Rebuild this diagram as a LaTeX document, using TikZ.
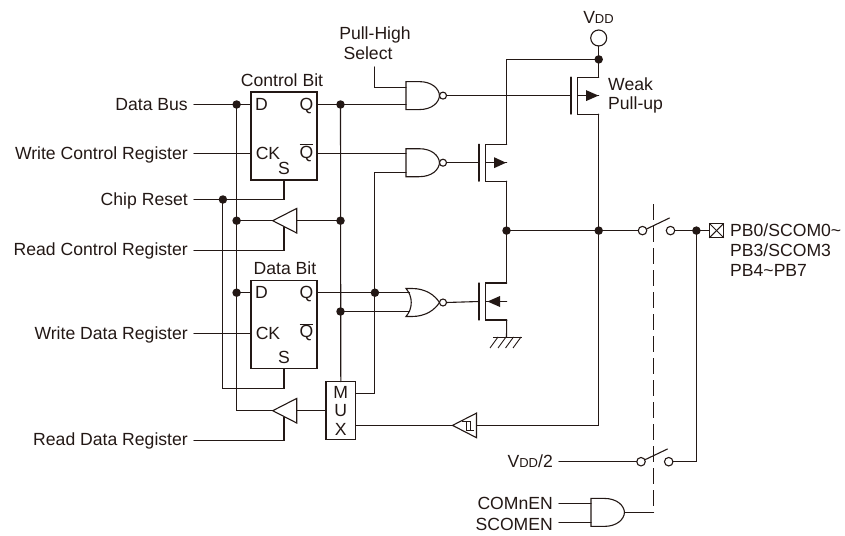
\documentclass[tikz,border=0pt]{standalone}
\usepackage{fontspec}
\setmainfont{Liberation Sans}
\definecolor{ink}{HTML}{231815}
\tikzset{
 wire/.style={draw=ink,line width=1.1pt,line cap=round,line join=miter},
 thinw/.style={draw=ink,line width=.9pt},
 lab/.style={text=ink,font=\fontsize{17.6}{20}\selectfont,inner sep=0pt,text height=12.5pt,text depth=1.5pt},
 rlab/.style={lab,anchor=east,inner xsep=6pt},
 llab/.style={lab,anchor=west},
 dotj/.style={circle,fill=ink,draw=none,minimum size=8.5pt,inner sep=0pt,outer sep=0pt},
 hollow/.style={circle,wire,fill=white,inner sep=0pt,outer sep=0pt},
 bubble/.style={hollow,minimum size=7pt},
 swc/.style={hollow,minimum size=8.5pt},
 ffbox/.style={rectangle,wire,minimum width=66pt,inner sep=0pt,outer sep=0pt},
 sel/.style={draw=ink,line width=.9pt,dash pattern=on 16pt off 6pt},
}
\newcommand\nandbody[2]{\coordinate (#1) at #2;
 \begin{scope}[shift={#2}]
 \draw[wire] (0,-14) -- (13,-14) .. controls (26,-14) and (33,-7) .. (33.5,0) .. controls (33,7) and (26,14) .. (13,14) -- (0,14) -- cycle;
 \end{scope}}
\newcommand\norbody[2]{\coordinate (#1) at #2;
 \begin{scope}[shift={#2}]
 \draw[wire] (0,-14) -- (6,-14) .. controls (20,-14) and (29,-7) .. (33.5,0) .. controls (29,7) and (20,14) .. (6,14) -- (0,14) .. controls (7,6) and (7,-6) .. (0,-14) -- cycle;
 \end{scope}}
\newcommand\bufbody[2]{\coordinate (#1) at #2;
 \begin{scope}[shift={#2}]
 \draw[wire,fill=white] (0,0) -- (24,-12.3) -- (24,12.3) -- cycle;
 \end{scope}}
\newcommand\fetbody[3]{% name, gate-bar centre, arrow
 \coordinate (#1) at #2;
 \begin{scope}[shift={#2}]
 \draw[wire] (0,-18.5) -- (0,18.5);
 \draw[wire] (27.7,-18.5) -- (6.7,-18.5) -- (6.7,18.5) -- (27.7,18.5);
 \draw[wire] (6.7,0) -- (27.7,0);
 #3
 \coordinate (#1s) at (27.7,-18.5);
 \coordinate (#1d) at (27.7,18.5);
 \end{scope}}
\begin{document}
\begin{tikzpicture}[x=1pt,y=-1pt]
\useasboundingbox (0,0) rectangle (845,535);
% ---- left labels
\node[rlab] (ldb) at (194,104.5) {Data Bus};
\node[rlab] (lwc) at (194,153.7) {Write Control Register};
\node[rlab] (lcr) at (194,199.5) {Chip Reset};
\node[rlab] (lrc) at (194,250.4) {Read Control Register};
\node[rlab] (lwd) at (194,333.7) {Write Data Register};
\node[rlab] (lrd) at (194,440.4) {Read Data Register};
% ---- flip-flops
\node[ffbox,minimum height=88pt] (ff1) at (284,136) {};
\node[ffbox,minimum height=88pt] (ff2) at (284,324.7) {};
\node[lab] (t1) at (282,80.5) {Control Bit};
\node[lab] (t2) at (285,268.5) {Data Bit};
\node[lab] (d1) at (261.5,104.5) {D};
\node[lab] (q1) at (306.5,104.5) {Q};
\node[lab] (ck1) at (268,153.7) {CK};
\node[lab] (nq1) at (306.5,152.7) {$\overline{\mbox{Q}}$};
\node[lab] (s1) at (284,168.5) {S};
\node[lab] (d2) at (261.5,292.7) {D};
\node[lab] (q2) at (306.5,292.7) {Q};
\node[lab] (ck2) at (268,333.7) {CK};
\node[lab] (nq2) at (306.5,332) {$\overline{\mbox{Q}}$};
\node[lab] (s2) at (284,358) {S};
% ---- junction coordinates
\coordinate (jd1) at (236.6,104.5);
\coordinate (jq1) at (340.5,104.5);
\coordinate (jcr) at (222.9,199.5);
\coordinate (jd2) at (236.6,220.7);
\coordinate (jq2) at (340.5,220.7);
\coordinate (jd3) at (236.6,292.7);
\coordinate (jq3) at (374.9,292.7);
\coordinate (jq4) at (340.5,311.5);
\coordinate (jvd) at (598.7,59.4);
\coordinate (jo1) at (506.5,230.6);
\coordinate (jo2) at (598.7,230.6);
\coordinate (jo3) at (696.4,230.6);
% ---- gates
\nandbody{g1}{(406,95.6)}
\nandbody{g2}{(406,162.7)}
\norbody{g3}{(406,302.5)}
\node[bubble] (b1) at (443,95.6) {};
\node[bubble] (b2) at (443,162.7) {};
\node[bubble] (b3) at (443,302.5) {};
% ---- MUX
\node[rectangle,wire,minimum width=29.7pt,minimum height=58pt,inner sep=0pt,outer sep=0pt] (mux) at (340.8,410.7) {};
\node[lab] (m1) at (340.8,392.5) {M};
\node[lab] (m2) at (340.8,411) {U};
\node[lab] (m3) at (340.8,430) {X};
% ---- buffers wires first
\coordinate (e1) at (284,226.5);
\coordinate (e2) at (284,417);
\draw[wire] (ff1.south) |- (jcr);
\draw[wire] (lcr.east) -- (jcr);
\draw[wire] (jcr) |- (222.9,388.4) -| (ff2.south);
\draw[wire] (ldb.east) -- (ff1.west|-ldb.east);
\draw[wire] (lwc.east) -- (ff1.west|-lwc.east);
\draw[wire] (lwd.east) -- (ff2.west|-lwd.east);
\draw[wire] (jd3) -- (ff2.west|-jd3);
\draw[wire] (jd1) -- (236.6,410.7) -- (290,410.7);
\draw[wire] (lrc.east) -| (e1);
\draw[wire] (lrd.east) -| (e2);
\draw[wire] (jd2) -- (jq2);
\draw[wire] (ff1.east|-jq1) -- (406,104.5);
\draw[wire] (jq1) -- (mux.north);
\draw[wire] (ff1.east|-lwc.east) -- (406,153.7);
\draw[wire] (ff2.east|-jq3) -- (409.5,292.7);
\draw[wire] (jq4) -- (409.5,311.5);
\coordinate (psel) at (374.9,67);
\draw[wire] (psel) |- (406,87.4);
\draw[wire] (406,172.4) -| (374.9,393.4) -- (mux.east|-0,393.4);
\draw[wire] (mux.west) -- (272.7,410.7);
\bufbody{bu1}{(272.7,220.7)}
\bufbody{bu2}{(272.7,410.7)}
\node[lab] (pl1) at (375,34) {Pull-High};
\node[lab] (pl2) at (368,54) {Select};
% ---- gate outputs and transistors
\fetbody{m3p}{(571,95.6)}{\fill[ink] (27.5,0) -- (15,-5.5) -- (15,5.5) -- cycle;}
\fetbody{m2p}{(479,162.7)}{\fill[ink] (27,0) -- (15,-5.5) -- (15,5.5) -- cycle;}
\fetbody{m1n}{(479,301.5)}{\fill[ink] (8.5,0) -- (21,-5.5) -- (21,5.5) -- cycle;}
\draw[wire] (b1.east) -- (m3p);
\draw[wire] (b2.east) -- (m2p);
\draw[wire] (b3.east) -- (m1n);
\node[hollow,minimum size=16pt] (vdd) at (598.7,38) {};
\node[lab] (lvdd) at (598.5,18) {V{\fontsize{13}{14}\selectfont DD}};
\node[llab] (w1) at (608,85) {Weak};
\node[llab] (w2) at (608,104) {Pull-up};
\draw[wire] (vdd.south) -- (m3ps);
\draw[wire] (jvd) -| (m2ps);
\draw[wire] (m2pd) -- (m1ns);
\draw[wire] (m3pd) -- (598.7,425.4) -- (477,425.4);
\coordinate (gnd) at (506.5,337);
\draw[wire] (m1nd) -- (gnd);
\draw[thinw] (493,337) -- (522,337);
\foreach \a in {498,506,513.5,521}{\draw[thinw] (\a,337) -- (\a-8,348);}
% Schmitt buffer
\bufbody{bu3}{(452.5,425.4)}
\draw[thinw] (462,421) -- (470,421) -- (470,430);
\draw[thinw] (466,421) -- (466,430) -- (474,430);
\draw[wire] (452.5,425.4) -- (mux.east|-0,425.4);
% ---- output side
\node[swc] (sw1) at (642.5,230.6) {};
\node[swc] (sw2) at (670.5,230.6) {};
\node[swc] (sw3) at (641,461.7) {};
\node[swc] (sw4) at (668.7,461.7) {};
\draw[wire] (jo1) -- (sw1.west);
\draw[wire] (sw2.east) -- (709,230.6);
\draw[wire] (646.5,229) -- (669.5,218);
\draw[wire] (645,459.7) -- (667.5,449);
\node[rectangle,wire,minimum size=14.5pt,inner sep=0pt,outer sep=0pt] (pad) at (716.5,230.6) {};
\draw[thinw] (pad.north west) -- (pad.south east);
\draw[thinw] (pad.north east) -- (pad.south west);
\node[llab] (p1) at (730,231) {PB0/SCOM0\char`\~};
\node[llab] (p2) at (730,250.5) {PB3/SCOM3};
\node[llab] (p3) at (730,271) {PB4\char`\~PB7};
\node[rlab] (lv2) at (559,461.7) {V{\fontsize{13}{14}\selectfont DD}/2};
\draw[wire] (lv2.east) -- (sw3.west);
\draw[wire] (sw4.east) -| (jo3);
\nandbody{g4}{(591,512.4)}
\node[rlab] (lc1) at (559,503.6) {COMnEN};
\node[rlab] (lc2) at (559,525) {SCOMEN};
\draw[wire] (lc1.east) -- (591,503.6);
\coordinate (in2) at (591,522.4);
\draw[wire] (lc2.east|-in2) -- (in2);
\coordinate (dtop) at (653.6,204);
\coordinate (dbot) at (653.6,512.4);
\draw[sel] (dtop) -- (dbot);
\draw[wire] (dbot) -- (624.5,512.4);
% ---- dots
\foreach \p in {jd1,jq1,jcr,jd2,jq2,jd3,jq3,jq4,jvd,jo1,jo2,jo3}{\node[dotj] at (\p) {};}
\end{tikzpicture}
\end{document}
